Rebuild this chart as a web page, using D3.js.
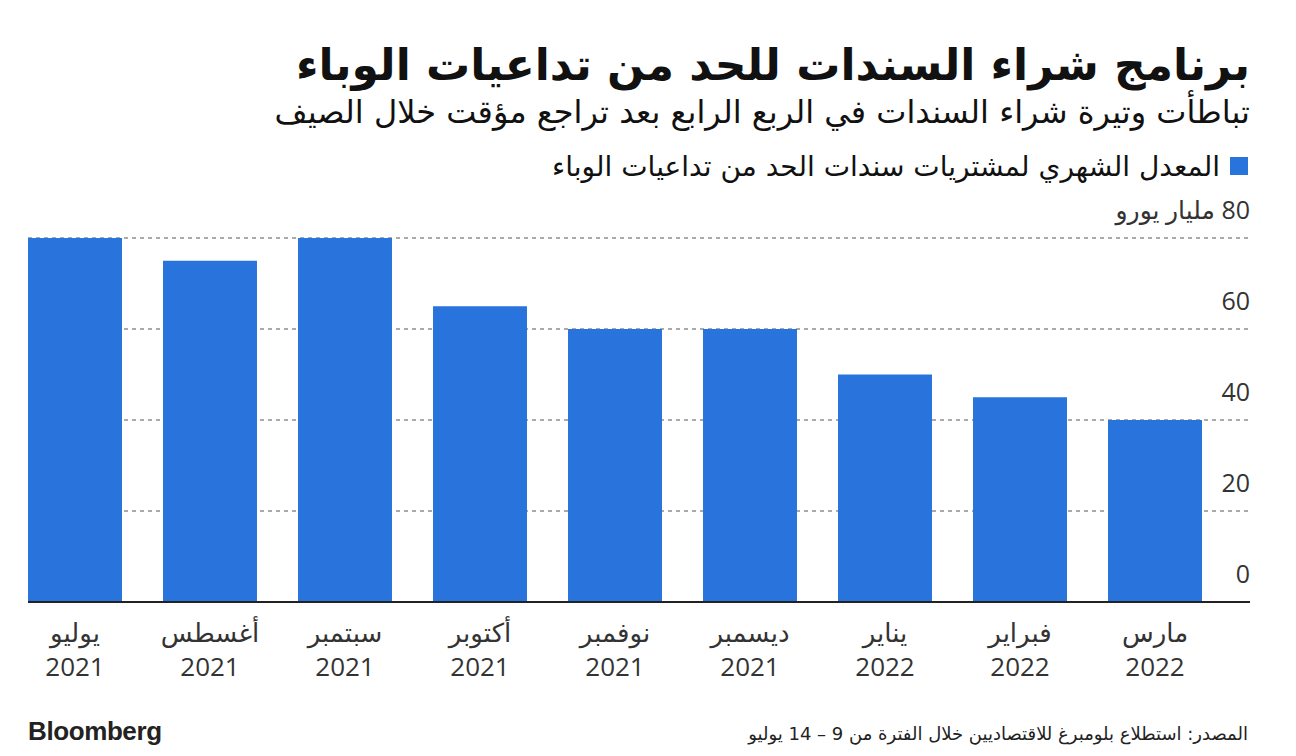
<!DOCTYPE html>
<html><head><meta charset="utf-8">
<script src="https://cdn.jsdelivr.net/npm/d3@7"></script>
<style>
html,body{margin:0;padding:0;background:#fff;}
body{width:1296px;height:756px;overflow:hidden;position:relative;}
</style></head>
<body>
<svg id="chart" width="1296" height="756" style="position:absolute;left:0;top:0"></svg>
<script>
const title = "برنامج شراء السندات للحد من تداعيات الوباء";
const subtitle = "تباطأت وتيرة شراء السندات في الربع الرابع بعد تراجع مؤقت خلال الصيف";
const legendLabel = "المعدل الشهري لمشتريات سندات الحد من تداعيات الوباء";
const unitLabel = "مليار يورو";
const source = "المصدر: استطلاع بلومبرغ للاقتصاديين خلال الفترة من 9 – 14 يوليو";
const months = ["يوليو","أغسطس","سبتمبر","أكتوبر","نوفمبر","ديسمبر","يناير","فبراير","مارس"];
const years = ["2021","2021","2021","2021","2021","2021","2022","2022","2022"];
const values = [80, 75, 80, 65, 60, 60, 50, 45, 40];
const yTicks = [0, 20, 40, 60, 80];

const svg = d3.select("#chart");
const blue = "#2874dc";
const x = d3.scaleBand().domain(d3.range(months.length)).range([7.5, 1222.5]).paddingInner(0.304).paddingOuter(0.152);
const y = d3.scaleLinear().domain([0, 80]).range([602, 238]);
const gridX0 = 28, gridX1 = 1250;

function rtlText(txt, xr, yb, size, weight, color, family) {
  return svg.append("text").attr("x", xr).attr("y", yb)
    .attr("direction", "rtl").style("direction","rtl").attr("text-anchor", "start")
    .attr("font-size", size).attr("font-weight", weight).attr("fill", color)
    .attr("font-family", family || "'DejaVu Sans', sans-serif").text(txt);
}
rtlText(title, 1250, 80, 44, 700, "#111");
rtlText(subtitle, 1250, 123, 32, 400, "#111");

// legend
svg.append("rect").attr("x", 1230).attr("y", 157).attr("width", 18).attr("height", 18).attr("fill", blue);
rtlText(legendLabel, 1220, 176, 28, 400, "#111");

// gridlines
svg.append("g").selectAll("line").data(yTicks.filter(d => d > 0)).join("line")
  .attr("x1", gridX0).attr("x2", gridX1).attr("y1", d => y(d)).attr("y2", d => y(d))
  .attr("stroke", "#aaa").attr("stroke-width", 2).attr("stroke-dasharray", "4,4");

// bars
svg.append("g").selectAll("rect").data(values).join("rect")
  .attr("x", (d, i) => x(i)).attr("width", x.bandwidth())
  .attr("y", d => y(d)).attr("height", d => y(0) - y(d)).attr("fill", blue);

// baseline
svg.append("line").attr("x1", gridX0).attr("x2", gridX1).attr("y1", y(0)).attr("y2", y(0))
  .attr("stroke", "#222").attr("stroke-width", 2);

// y tick labels
yTicks.forEach(t => {
  const label = t === 80 ? t + " " + unitLabel : String(t);
  rtlText(label, gridX1, y(t) - 19, 25, 400, "#333", "'Open Sans','DejaVu Sans',sans-serif");
});

// x labels
const xl = svg.append("g").attr("font-family", "'Open Sans','DejaVu Sans',sans-serif").attr("fill", "#333").attr("text-anchor", "middle");
xl.selectAll("text.m").data(months).join("text").attr("class", "m")
  .attr("x", (d, i) => x(i) + x.bandwidth() / 2).attr("y", 642).attr("font-size", 26).text(d => d);
xl.selectAll("text.yr").data(years).join("text").attr("class", "yr")
  .attr("x", (d, i) => x(i) + x.bandwidth() / 2).attr("y", 676).attr("font-size", 26).text(d => d);

// footer
svg.append("text").attr("x", 28).attr("y", 740).attr("font-family", "'Liberation Sans', Arial, sans-serif")
  .attr("font-weight", 700).attr("font-size", 26).attr("letter-spacing", -0.4).attr("fill", "#222").text("Bloomberg");
rtlText(source, 1248, 740, 18, 400, "#222");
</script>
</body></html>
